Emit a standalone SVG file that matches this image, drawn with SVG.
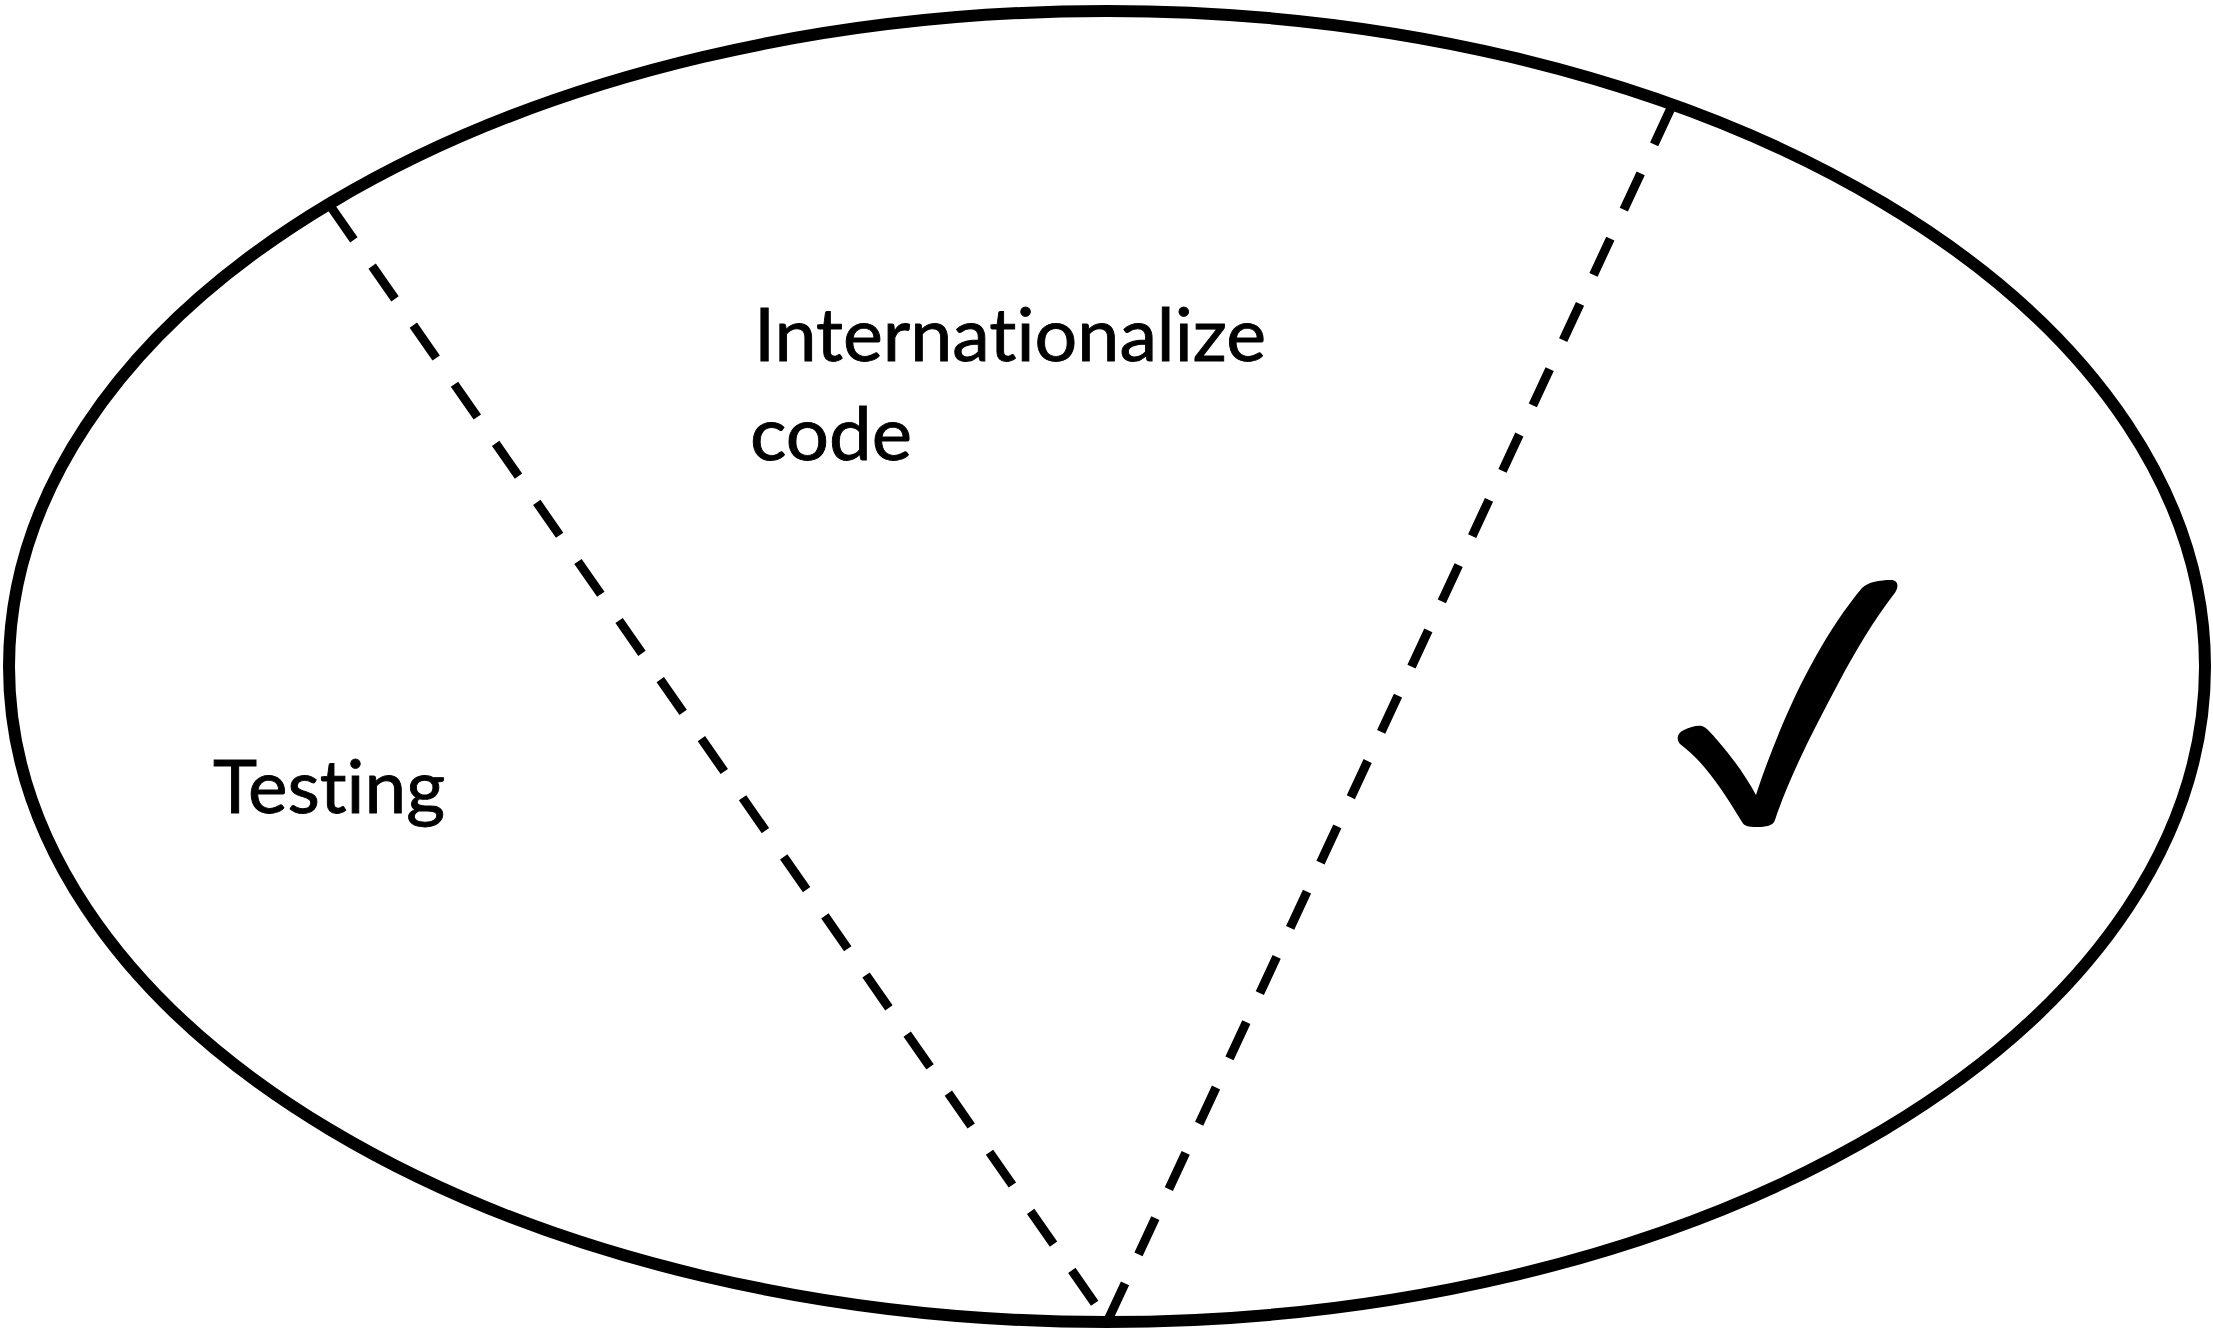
<svg xmlns="http://www.w3.org/2000/svg" width="2213" height="1333" viewBox="0 0 2213 1333">
  <style>
    .outline { fill: none; stroke: #000; stroke-width: 12; }
    .divider { fill: none; stroke: #000; stroke-width: 9; stroke-dasharray: 40 32; stroke-linecap: butt; }
    .label { font-family: Lato, "Open Sans", "Liberation Sans", sans-serif; font-size: 74px; fill: #000; stroke: #000; stroke-width: 0.9; font-variant-ligatures: none; font-feature-settings: "liga" 0; }
  </style>
  <rect width="2213" height="1333" fill="#ffffff"/>
  <g id="boundary">
    <ellipse class="outline" cx="1107" cy="666.5" rx="1098" ry="655.5"/>
  </g>
  <g id="connectors">
    <line class="divider" x1="331" y1="207" x2="1105" y2="1318"/>
    <line class="divider" x1="1671" y1="108" x2="1108" y2="1320"/>
  </g>
  <g id="internationalize">
    <text class="label" x="754" y="361" textLength="512" lengthAdjust="spacingAndGlyphs">Internationalize</text>
    <text class="label" x="750" y="460" textLength="162" lengthAdjust="spacingAndGlyphs">code</text>
  </g>
  <g id="testing">
    <text class="label" x="213" y="813" textLength="232" lengthAdjust="spacingAndGlyphs">Testing</text>
  </g>
  <g id="checkmark">
    <path fill="#000" d="M1680,744 C1676,739 1677,733 1684,730 C1690,727 1697,725 1702,726 C1706,727 1712,734 1718,741 C1732,757 1745,775 1756,795 C1770,752 1792,698 1816,656 C1830,631 1846,607 1862,588 C1868,582 1880,580 1891,580 C1899,580 1899,588 1894,594 C1874,620 1856,650 1839,682 C1815,727 1790,775 1775,820 C1773,826 1766,827 1757,827 C1748,827 1744,826 1742,822 C1731,804 1720,786 1705,768 C1697,758 1688,750 1680,744 Z"/>
  </g>
</svg>
